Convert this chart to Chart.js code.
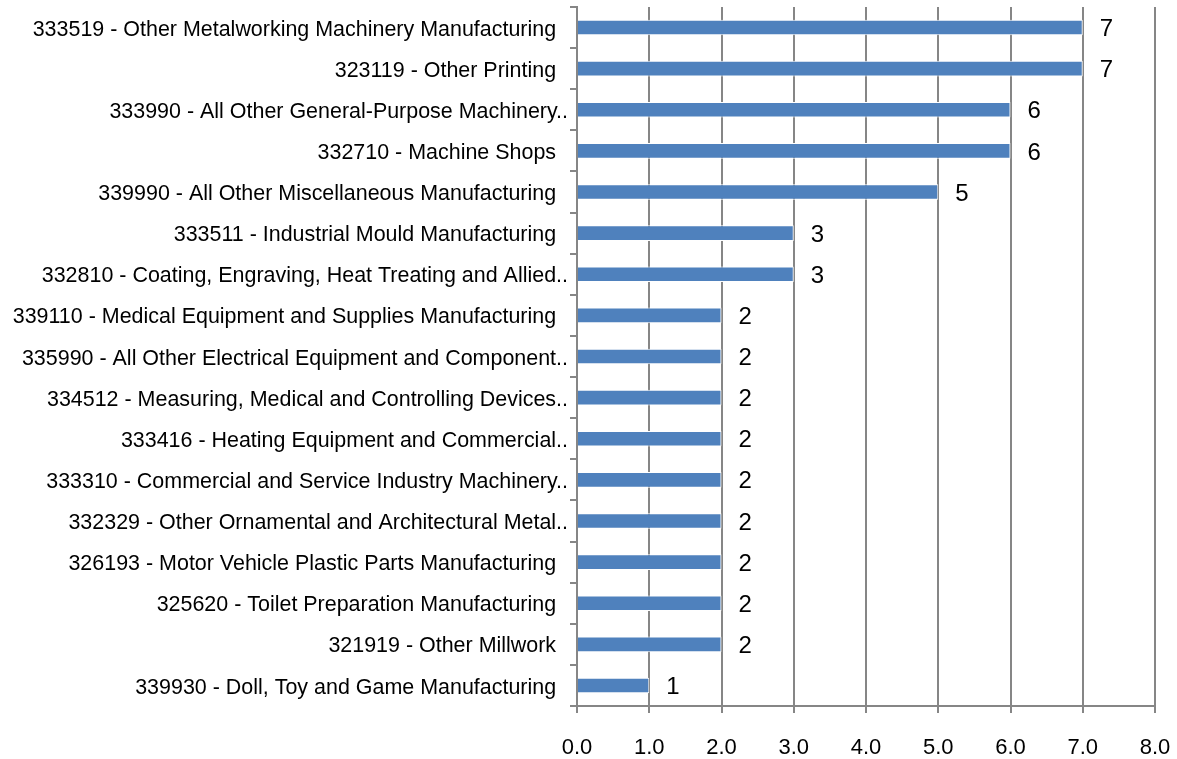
<!DOCTYPE html>
<html>
<head>
<meta charset="utf-8">
<script src="https://cdn.jsdelivr.net/npm/chart.js@4.4.1/dist/chart.umd.min.js"></script>
<style>
  html, body { margin: 0; padding: 0; background: #fff; }
  #wrap { width: 1177px; height: 759px; }
</style>
</head>
<body>
<div id="wrap"><canvas id="naicsChart" width="1177" height="759"></canvas></div>
<script>
// industries, sorted by count (top to bottom)
const categories = [
  "333519 - Other Metalworking Machinery Manufacturing  ",
  "323119 - Other Printing  ",
  "333990 - All Other General-Purpose Machinery..",
  "332710 - Machine Shops  ",
  "339990 - All Other Miscellaneous Manufacturing  ",
  "333511 - Industrial Mould Manufacturing  ",
  "332810 - Coating, Engraving, Heat Treating and Allied..",
  "339110 - Medical Equipment and Supplies Manufacturing  ",
  "335990 - All Other Electrical Equipment and Component..",
  "334512 - Measuring, Medical and Controlling Devices..",
  "333416 - Heating Equipment and Commercial..",
  "333310 - Commercial and Service Industry Machinery..",
  "332329 - Other Ornamental and Architectural Metal..",
  "326193 - Motor Vehicle Plastic Parts Manufacturing  ",
  "325620 - Toilet Preparation Manufacturing  ",
  "321919 - Other Millwork  ",
  "339930 - Doll, Toy and Game Manufacturing  "
];
const counts = [7, 7, 6, 6, 5, 3, 3, 2, 2, 2, 2, 2, 2, 2, 2, 2, 1];
const xTicks = [0, 1, 2, 3, 4, 5, 6, 7, 8];

const FONT = "'Liberation Sans', Arial, sans-serif";
const GRID = "#868686";

// category names, slightly condensed, right-aligned against the y axis
const categoryLabels = {
  id: "categoryLabels",
  afterDraw(chart) {
    const ctx = chart.ctx;
    const y = chart.scales.y;
    ctx.save();
    ctx.font = "22px " + FONT;
    ctx.fillStyle = "#000";
    ctx.textAlign = "right";
    ctx.textBaseline = "middle";
    categories.forEach((name, i) => {
      ctx.save();
      ctx.translate(y.right - 9, y.getPixelForTick(i) + 2);
      ctx.scale(0.975, 1);
      ctx.fillText(name, 0, 0);
      ctx.restore();
    });
    ctx.restore();
  }
};

// count printed just past the end of each bar
const valueLabels = {
  id: "valueLabels",
  afterDatasetsDraw(chart) {
    const ctx = chart.ctx;
    const meta = chart.getDatasetMeta(0);
    ctx.save();
    ctx.font = "24px " + FONT;
    ctx.fillStyle = "#000";
    ctx.textAlign = "left";
    ctx.textBaseline = "middle";
    meta.data.forEach((bar, i) => {
      ctx.fillText(String(counts[i]), bar.x + 17, bar.y + 2);
    });
    ctx.restore();
  }
};

new Chart(document.getElementById("naicsChart"), {
  type: "bar",
  data: {
    labels: categories,
    datasets: [{
      data: counts,
      backgroundColor: "#4F81BD",
      borderColor: "#ffffff",
      borderWidth: 1,
      categoryPercentage: 1,
      barPercentage: 0.38
    }]
  },
  options: {
    indexAxis: "y",
    responsive: false,
    animation: false,
    layout: { padding: { top: 7, right: 22, bottom: 0, left: 0 } },
    plugins: {
      legend: { display: false },
      title: { display: false },
      tooltip: { enabled: false }
    },
    scales: {
      x: {
        min: 0,
        max: 8,
        afterBuildTicks: axis => { axis.ticks = xTicks.map(v => ({ value: v })); },
        afterFit: axis => {
          axis.height = 53;
          axis.paddingLeft = 0;
          axis.paddingRight = 0;
        },
        border: { color: GRID, width: 2 },
        grid: { color: GRID, lineWidth: 2, tickLength: 7, drawTicks: true },
        ticks: {
          color: "#000",
          font: { family: FONT, size: 22 },
          padding: 22,
          maxRotation: 0,
          callback: v => Number(v).toFixed(1)
        }
      },
      y: {
        afterFit: axis => { axis.width = 577; },
        border: { color: GRID, width: 2 },
        grid: { color: GRID, lineWidth: 2, drawOnChartArea: false, tickLength: 7, offset: true },
        ticks: { display: false, autoSkip: false }
      }
    }
  },
  plugins: [valueLabels, categoryLabels]
});
</script>
</body>
</html>
